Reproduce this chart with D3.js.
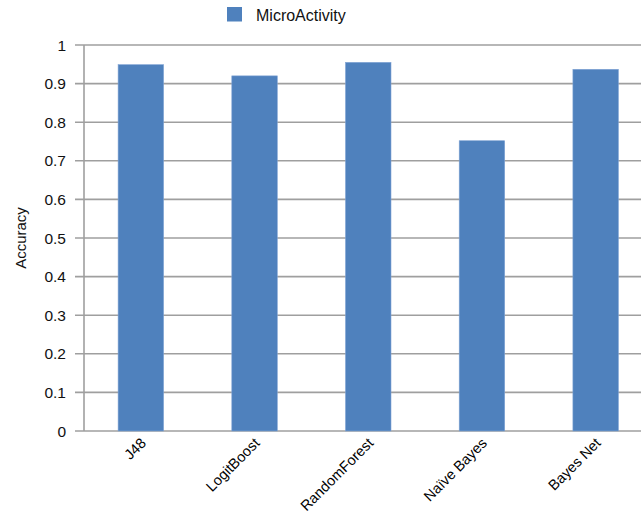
<!DOCTYPE html>
<html>
<head>
<meta charset="utf-8">
<script src="https://cdn.jsdelivr.net/npm/d3@7"></script>
<style>
  html, body { margin: 0; padding: 0; background: #fff; }
  svg { display: block; font-family: "Liberation Sans", Arial, Helvetica, sans-serif; }
</style>
</head>
<body>
<svg id="chart" width="641" height="517"></svg>
<script>
const categories = ["J48", "LogitBoost", "RandomForest", "Naïve Bayes", "Bayes Net"];
const seriesName = "MicroActivity";
const values = [0.949, 0.920, 0.955, 0.752, 0.937];
const yTicks = [0, 0.1, 0.2, 0.3, 0.4, 0.5, 0.6, 0.7, 0.8, 0.9, 1];
const yTickLabels = ["0", "0.1", "0.2", "0.3", "0.4", "0.5", "0.6", "0.7", "0.8", "0.9", "1"];

(function () {
const svg = d3.select("#chart");
const mLeft = 84, mRight = 652.5, mTop = 45, mBottom = 431;
const barColor = "#4f81bd";
const gridColor = "#9f9f9f";

const x = d3.scaleBand().domain(categories).range([mLeft, mRight])
  .paddingInner(0.6).paddingOuter(0.3);
const y = d3.scaleLinear().domain([0, 1]).range([mBottom, mTop]);

// gridlines + ticks
svg.append("g").selectAll("line").data(yTicks).join("line")
  .attr("x1", mLeft - 9).attr("x2", 641)
  .attr("y1", d => y(d)).attr("y2", d => y(d))
  .attr("stroke", gridColor).attr("stroke-width", 1.6);

// y tick labels
svg.append("g").selectAll("text").data(yTicks).join("text")
  .attr("x", mLeft - 18).attr("y", d => y(d))
  .attr("dy", "0.36em")
  .attr("text-anchor", "end")
  .attr("font-size", 15.5)
  .attr("fill", "#111")
  .text((d, i) => yTickLabels[i]);

// bars
svg.append("g").selectAll("rect").data(values).join("rect")
  .attr("x", (d, i) => x(categories[i]))
  .attr("width", x.bandwidth())
  .attr("y", d => y(d))
  .attr("height", d => y(0) - y(d))
  .attr("fill", barColor)
  .attr("stroke", "#7fa3d4").attr("stroke-width", 0.6);

// y axis line
svg.append("line")
  .attr("x1", mLeft).attr("x2", mLeft)
  .attr("y1", mTop).attr("y2", mBottom)
  .attr("stroke", gridColor).attr("stroke-width", 1.6);

// x labels
svg.append("g").selectAll("text").data(categories).join("text")
  .attr("transform", d => `translate(${x(d) + x.bandwidth() / 2 + 6},${mBottom + 13}) rotate(-45)`)
  .attr("text-anchor", "end")
  .attr("font-size", 14.5)
  .attr("fill", "#000")
  .text(d => d);

// y axis title
svg.append("text")
  .attr("transform", `translate(26,${(mTop + mBottom) / 2}) rotate(-90)`)
  .attr("text-anchor", "middle")
  .attr("font-size", 15)
  .attr("fill", "#111")
  .text("Accuracy");

// legend
const lg = svg.append("g");
lg.append("rect").attr("x", 227).attr("y", 7).attr("width", 15).attr("height", 14.5).attr("fill", barColor);
lg.append("text").attr("x", 256).attr("y", 20.5).attr("font-size", 16).attr("fill", "#111").text(seriesName);
})();
</script>
</body>
</html>
